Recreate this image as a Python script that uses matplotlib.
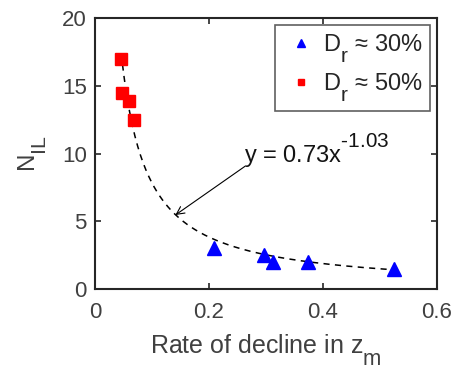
import matplotlib
matplotlib.use("Agg")
import matplotlib.pyplot as plt
import numpy as np

# MATLAB-style scripts: nearly full size, strongly shifted
try:
    import matplotlib._mathtext as _mt
    _mt.SHRINK_FACTOR = 0.88
    _mt.FontConstantsBase.sub1 = 0.88
    _mt.FontConstantsBase.sup1 = 1.1
except Exception:
    pass

plt.rcParams['font.family'] = ['Liberation Sans', 'DejaVu Sans']
plt.rcParams['mathtext.fontset'] = 'custom'
plt.rcParams['mathtext.rm'] = 'Liberation Sans'
plt.rcParams['mathtext.it'] = 'Liberation Sans'
plt.rcParams['mathtext.default'] = 'rm'

x30 = [0.209, 0.296, 0.312, 0.373, 0.525]
y30 = [3.0, 2.5, 2.0, 2.0, 1.45]
x50 = [0.046, 0.048, 0.060, 0.069]
y50 = [17.0, 14.5, 13.9, 12.5]
fit_a, fit_b = 0.73, -1.03
xticks = [0, 0.2, 0.4, 0.6]
xticklabels = ['0', '0.2', '0.4', '0.6']
yticks = [0, 5, 10, 15, 20]

tc = '#404040'
W, H = 460, 369
fig = plt.figure(figsize=(4.6, 3.69), dpi=100)
ax = fig.add_axes([95/W, 1-289/H, 342/W, 271/H])

xf = np.linspace(min(x50), max(x30), 200)
ax.plot(xf, fit_a * xf**fit_b, '--', color='black', lw=1.1, dashes=(4, 3.5))
ax.plot(x30, y30, '^', color='blue', ms=10, ls='none', label=r'D$_{r}$ ≈ 30%')
ax.plot(x50, y50, 's', color='red', ms=8, ls='none', label=r'D$_{r}$ ≈ 50%')

ax.set_xlim(0, 0.6)
ax.set_ylim(0, 20)
ax.set_xticks(xticks)
ax.set_yticks(yticks)
ax.set_xticklabels(xticklabels)
ax.tick_params(direction='in', top=True, right=True, labelsize=16, colors='#262626',
               labelcolor=tc, length=4, width=1.2)
ax.tick_params(axis='x', pad=9)
ax.tick_params(axis='y', pad=6)
for s in ax.spines.values():
    s.set_color('#262626')
    s.set_linewidth(1.5)

ax.set_xlabel(r'Rate of decline in z$_{m}$', fontsize=18, color=tc)
ax.xaxis.set_label_coords(0.5, -(333 - 289) / 271)
ax.set_ylabel(r'N$_{IL}$', fontsize=17.5, color=tc)
ax.yaxis.set_label_coords(-(95 - 49) / 342, 0.5)

ax.text(0.2606, 9.3, 'y = 0.73x$^{\u20101.03}$', fontsize=17, color='#141414',
        va='baseline', ha='left')
ax.annotate('', xy=(0.141, 5.46), xytext=(0.264, 9.08),
            arrowprops=dict(arrowstyle='->', color='black', lw=0.8,
                            shrinkA=0, shrinkB=0, mutation_scale=14))

leg = ax.legend(loc='upper right', fontsize=17, frameon=True, fancybox=False,
                edgecolor='#606060', markerscale=0.55, handletextpad=0.15,
                borderaxespad=0.3, labelspacing=0.3, framealpha=1,
                handlelength=1.6, borderpad=0.3)
leg.get_frame().set_linewidth(1.2)
for t in leg.get_texts():
    t.set_color('#262626')

fig.savefig('out.png', dpi=100)
